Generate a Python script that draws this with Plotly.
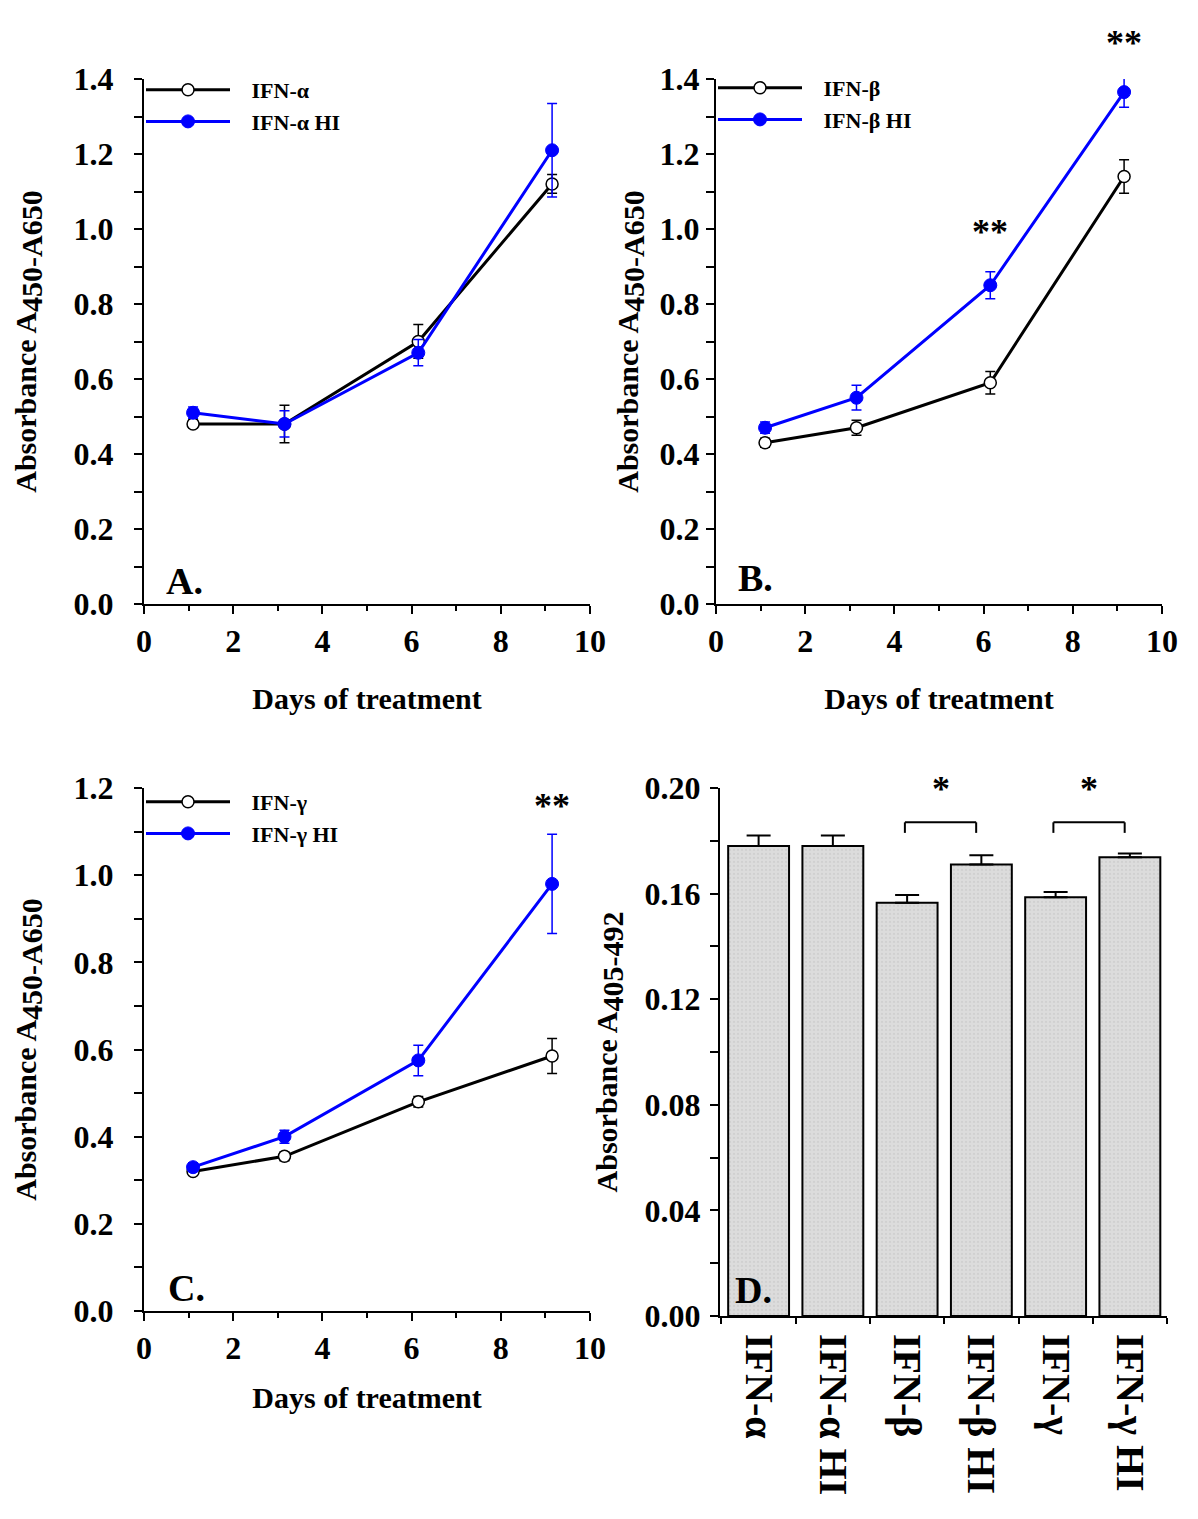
import plotly.graph_objects as go

# ---------------- data ----------------
days = [1.1, 3.15, 6.15, 9.15]

# Panel A: IFN-alpha
a_ctrl = [0.48, 0.48, 0.70, 1.12]
a_ctrl_err = [0.01, 0.05, 0.045, 0.025]
a_hi = [0.51, 0.48, 0.67, 1.21]
a_hi_err = [0.015, 0.035, 0.035, 0.125]

# Panel B: IFN-beta
b_ctrl = [0.43, 0.47, 0.59, 1.14]
b_ctrl_err = [0.012, 0.02, 0.03, 0.045]
b_hi = [0.47, 0.55, 0.85, 1.365]
b_hi_err = [0.015, 0.033, 0.036, 0.04]

# Panel C: IFN-gamma
c_ctrl = [0.32, 0.355, 0.48, 0.585]
c_ctrl_err = [0.008, 0.01, 0.012, 0.04]
c_hi = [0.33, 0.40, 0.575, 0.98]
c_hi_err = [0.01, 0.015, 0.035, 0.114]

# Panel D: bars
d_labels = ["IFN-α", "IFN-α HI", "IFN-β", "IFN-β HI", "IFN-γ", "IFN-γ HI"]
d_values = [0.178, 0.178, 0.1565, 0.171, 0.1586, 0.1738]
d_err = [0.004, 0.004, 0.003, 0.0035, 0.002, 0.0014]

# significance marks (x, y in data units)
b_stars = [(6.15, 1.05, "**"), (9.15, 1.555, "**")]
c_stars = [(9.15, 1.21, "**")]
d_pairs = [(2, 3), (4, 5)]
d_bracket_y = 0.187
d_star_y = 0.208

legend_names = {
    "a": ("IFN-α", "IFN-α HI"),
    "b": ("IFN-β", "IFN-β HI"),
    "c": ("IFN-γ", "IFN-γ HI"),
}

# ---------------- style ----------------
OFF = 8                      # default body margin of the html page
W, H = 1198 - OFF, 1519 - OFF
FONT = "Liberation Serif"
BLUE = "#0000ff"
PAD = "\u00a0\u00a0\u00a0"

def px_x(p):
    return (p - OFF) / W

def px_y(p):
    return 1 - (p - OFF) / H

fig = go.Figure()

def add_pair(ctrl, ctrl_err, hi, hi_err, names, xa, ya, legend):
    fig.add_trace(go.Scatter(
        x=days, y=ctrl, name=PAD + names[0], mode="lines+markers",
        line=dict(color="black", width=3),
        marker=dict(symbol="circle", size=12, color="white",
                    line=dict(color="black", width=1.5)),
        error_y=dict(type="data", array=ctrl_err, color="black",
                     thickness=1.5, width=5),
        xaxis=xa, yaxis=ya, legend=legend, legendgroup=legend + "1",
        cliponaxis=False,
    ))
    fig.add_trace(go.Scatter(
        x=days, y=hi, name=PAD + names[1], mode="lines+markers",
        line=dict(color=BLUE, width=3),
        marker=dict(symbol="circle", size=13, color=BLUE,
                    line=dict(color=BLUE, width=1)),
        error_y=dict(type="data", array=hi_err, color=BLUE,
                     thickness=1.5, width=5),
        xaxis=xa, yaxis=ya, legend=legend, legendgroup=legend + "2",
        cliponaxis=False,
    ))

add_pair(a_ctrl, a_ctrl_err, a_hi, a_hi_err, legend_names["a"], "x", "y", "legend")
add_pair(b_ctrl, b_ctrl_err, b_hi, b_hi_err, legend_names["b"], "x2", "y2", "legend2")
add_pair(c_ctrl, c_ctrl_err, c_hi, c_hi_err, legend_names["c"], "x3", "y3", "legend3")

fig.add_trace(go.Bar(
    x=d_labels, y=d_values, width=0.82,
    marker=dict(color="#d8d8d8", line=dict(color="black", width=2),
                pattern=dict(shape=".", fgcolor="#c4c4c4", bgcolor="#dcdcdc",
                             size=4, solidity=0.25)),
    error_y=dict(type="data", symmetric=False, array=d_err,
                 arrayminus=[0] * len(d_err), color="black",
                 thickness=2, width=12),
    xaxis="x4", yaxis="y4", showlegend=False,
))

# ---------------- axes ----------------
tickfont_y = dict(family=FONT, size=32, color="black", weight="bold")
tickfont_x = dict(family=FONT, size=32, color="black", weight="bold")
titlefont = dict(family=FONT, size=30, color="black", weight="bold")
SUBSPAN = '<sub><span style="font-size:30px">{}</span></sub>'

def xaxis_line(domain, anchor, title, standoff):
    return dict(
        domain=domain, anchor=anchor, range=[0, 10], automargin=False,
        showline=True, linecolor="black", linewidth=2,
        showgrid=False, zeroline=False,
        ticks="outside", ticklen=8, tickwidth=2, tickcolor="black",
        dtick=2, tick0=0, tickfont=tickfont_x, ticklabelstandoff=0,
        minor=dict(ticks="outside", ticklen=5, tickwidth=2,
                   tickcolor="black", dtick=1),
        title=dict(text=title, font=titlefont, standoff=standoff),
    )

def yaxis_line(domain, anchor, top, lab_standoff, title_standoff):
    return dict(
        domain=domain, anchor=anchor, range=[0, top], automargin=False,
        showline=True, linecolor="black", linewidth=2,
        showgrid=False, zeroline=False,
        ticks="outside", ticklen=8, tickwidth=2, tickcolor="black",
        dtick=0.2, tick0=0, tickformat=".1f", tickfont=tickfont_y,
        ticklabelstandoff=lab_standoff,
        minor=dict(ticks="outside", ticklen=8, tickwidth=2,
                   tickcolor="black", dtick=0.1),
        title=dict(text="Absorbance A" + SUBSPAN.format("450-A650"),
                   font=titlefont, standoff=title_standoff),
    )

xa_dom = [px_x(144), px_x(590)]
xb_dom = [px_x(716), px_x(1162)]
xd_dom = [px_x(720), px_x(1167)]
y_top_dom = [px_y(604), px_y(79)]
y_c_dom = [px_y(1311), px_y(788)]
y_d_dom = [px_y(1316), px_y(788)]

fig.update_layout(
    width=W, height=H,
    margin=dict(l=0, r=0, t=0, b=0, autoexpand=False),
    paper_bgcolor="white", plot_bgcolor="white",
    font=dict(family=FONT, color="black"),
    xaxis=xaxis_line(xa_dom, "y", "Days of treatment", 30),
    yaxis=yaxis_line(y_top_dom, "x", 1.4, 14, 28),
    xaxis2=xaxis_line(xb_dom, "y2", "Days of treatment", 30),
    yaxis2=yaxis_line(y_top_dom, "x2", 1.4, 0, 12),
    xaxis3=xaxis_line(xa_dom, "y3", "Days of treatment", 22),
    yaxis3=yaxis_line(y_c_dom, "x3", 1.2, 14, 28),
    xaxis4=dict(
        domain=xd_dom, anchor="y4", type="category", automargin=False,
        range=[-0.52, 5.5],
        showline=True, linecolor="black", linewidth=2,
        showgrid=False, zeroline=False,
        ticks="outside", tickson="boundaries", ticklen=6, tickwidth=2,
        tickcolor="black", tickangle=90,
        tickfont=dict(family=FONT, size=40, color="black", weight="bold"),
        ticklabelstandoff=8,
    ),
    yaxis4=dict(
        domain=y_d_dom, anchor="x4", range=[0, 0.2], automargin=False,
        showline=True, linecolor="black", linewidth=2,
        showgrid=False, zeroline=False,
        ticks="outside", ticklen=8, tickwidth=2, tickcolor="black",
        dtick=0.04, tick0=0, tickformat=".2f", tickfont=tickfont_y,
        ticklabelstandoff=3,
        minor=dict(ticks="outside", ticklen=8, tickwidth=2,
                   tickcolor="black", dtick=0.02),
        title=dict(text="Absorbance A" + SUBSPAN.format("405-492"),
                   font=titlefont, standoff=18),
    ),
    bargap=0.18,
)

legend_common = dict(
    bgcolor="rgba(0,0,0,0)", borderwidth=0, itemwidth=84,
    tracegroupgap=0, traceorder="grouped",
    font=dict(family=FONT, size=22, color="black", weight="bold"),
    xanchor="left", yanchor="top",
)
fig.update_layout(
    legend=dict(x=px_x(141), y=px_y(69), **legend_common),
    legend2=dict(x=px_x(713), y=px_y(67), **legend_common),
    legend3=dict(x=px_x(141), y=px_y(781), **legend_common),
)

# ---------------- annotations ----------------
annots = []
star_font = dict(family=FONT, size=36, color="black", weight="bold")
for xv, yv, t in b_stars:
    annots.append(dict(x=xv, y=yv / 1.4, xref="x2", yref="y2 domain", text=t,
                       showarrow=False, font=star_font))
for xv, yv, t in c_stars:
    annots.append(dict(x=xv, y=yv / 1.2, xref="x3", yref="y3 domain", text=t,
                       showarrow=False, font=star_font))

panel_font = dict(family=FONT, size=38, color="black", weight="bold")
for label, xr, yr, dx, dy in [("A.", "x", "y", 0.045, 0.0),
                              ("B.", "x2", "y2", 0.045, 0.005),
                              ("C.", "x3", "y3", 0.05, 0.0),
                              ("D.", "x4", "y4", 0.03, 0.005)]:
    annots.append(dict(x=dx, y=dy, xref=xr + " domain", yref=yr + " domain",
                       text=label, showarrow=False, xanchor="left",
                       yanchor="bottom", font=panel_font))

shapes = []
for i0, i1 in d_pairs:
    xl, xr_ = i0 - 0.03, i1 - 0.07
    leg = d_bracket_y - 0.004
    for (x0, y0, x1, y1) in [(xl, d_bracket_y, xr_, d_bracket_y),
                             (xl, leg, xl, d_bracket_y),
                             (xr_, leg, xr_, d_bracket_y)]:
        shapes.append(dict(type="line", xref="x4", yref="y4",
                           x0=x0, y0=y0, x1=x1, y1=y1,
                           line=dict(color="black", width=2)))
    annots.append(dict(x=(xl + xr_) / 2, y=d_star_y / 0.2,
                       xref="x4", yref="y4 domain", text="*",
                       showarrow=False, font=star_font))

fig.update_layout(annotations=annots, shapes=shapes)

fig.write_html("out.html")
